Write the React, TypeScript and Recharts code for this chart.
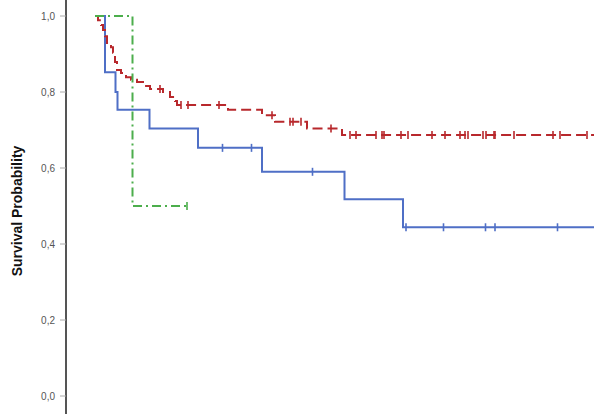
import { LineChart, Line, XAxis, YAxis } from "recharts";

// survival steps (time, probability); time in months
const blueTimes = [0, 2.0, 4.1, 4.5, 10.9, 20.6, 33.4, 49.9, 61.6];
const blueSurv = [1.0, 0.852, 0.8, 0.753, 0.704, 0.653, 0.59, 0.518, 0.444];
const blueCensor = [25.5, 31.3, 43.5, 62.2, 69.7, 78.1, 80.0, 92.5];

const redTimes = [0, 0.6, 1.2, 1.6, 2.0, 2.4, 3.2, 3.6, 4.0, 4.4, 5.2, 6.2, 7.2, 8.4, 9.6, 11.0, 13.6, 15.0, 16.0, 16.4, 26.6, 33.4, 36.0, 42.4, 49.4];
const redSurv = [1.0, 0.989, 0.976, 0.963, 0.947, 0.929, 0.918, 0.903, 0.879, 0.858, 0.85, 0.839, 0.832, 0.826, 0.816, 0.808, 0.8, 0.787, 0.776, 0.766, 0.753, 0.739, 0.722, 0.704, 0.687];
const redCensor = [13.0, 17.2, 18.6, 24.8, 35.4, 39.0, 39.6, 41.2, 47.2, 51.0, 52.2, 56.2, 57.4, 57.8, 61.2, 62.6, 67.4, 70.0, 73.0, 74.0, 74.6, 77.6, 78.2, 79.8, 80.0, 83.8, 91.6, 93.0, 98.4];

const greenTimes = [0, 7.5];
const greenSurv = [1.0, 0.5];
const greenCensor = [18.4];

const yTicks = [0, 0.2, 0.4, 0.6, 0.8, 1.0];
const lastTime = 99.8;

type Pt = { t: number; s: number; c: boolean };

function build(times: number[], surv: number[], censor: number[], end: number): Pt[] {
  const pts: Pt[] = times.map((t, i) => ({ t, s: surv[i], c: false }));
  censor.forEach((t) => {
    let idx = 0;
    times.forEach((tt, i) => {
      if (tt <= t) idx = i;
    });
    pts.push({ t, s: surv[idx], c: true });
  });
  pts.sort((a, b) => a.t - b.t);
  const last = pts[pts.length - 1];
  if (end > last.t) pts.push({ t: end, s: last.s, c: false });
  return pts;
}

const blueData = build(blueTimes, blueSurv, blueCensor, lastTime);
const redData = build(redTimes, redSurv, redCensor, lastTime);
const greenData = build(greenTimes, greenSurv, greenCensor, 0);

const censorDot = (color: string) => (props: any) => {
  const { cx, cy, payload, index } = props;
  if (!payload.c) return <g key={"d" + index} />;
  return <line key={"d" + index} x1={cx} x2={cx} y1={cy - 4} y2={cy + 4} stroke={color} strokeWidth={1.6} />;
};

const fmt = (v: number) => v.toFixed(1).replace(".", ",");

export default function App() {
  return (
    <div style={{ position: "fixed", top: 0, left: 0, width: 594, height: 414, overflow: "hidden", background: "#fff" }}>
      <div style={{ marginTop: -3 }}>
        <LineChart width={594} height={418} margin={{ top: 0, right: 0, bottom: 0, left: 0 }}>
          <XAxis dataKey="t" type="number" domain={[-5.8, 99.8]} allowDataOverflow hide />
          <YAxis
            type="number"
            domain={[-0.05, 1.05]}
            ticks={yTicks}
            tickFormatter={fmt}
            width={66}
            tickSize={6}
            tickMargin={5}
            axisLine={{ stroke: "#555", strokeWidth: 2 }}
            tickLine={{ stroke: "#aaa" }}
            tick={{ fill: "#555", fontSize: 10, fontFamily: "Liberation Sans, Arial, sans-serif" }}
            label={{
              content: () => (
                <text
                  x={17}
                  y={214}
                  transform="rotate(-90 17 214)"
                  textAnchor="middle"
                  dominantBaseline="central"
                  fontSize={14}
                  fontWeight="bold"
                  fontFamily="Liberation Sans, Arial, sans-serif"
                  fill="#111"
                >
                  Survival Probability
                </text>
              ),
            }}
          />
          <Line
            data={blueData}
            dataKey="s"
            type="stepAfter"
            stroke="#4f6fc6"
            strokeWidth={2}
            dot={censorDot("#4f6fc6")}
            isAnimationActive={false}
          />
          <Line
            data={redData}
            dataKey="s"
            type="stepAfter"
            stroke="#b8282c"
            strokeWidth={2}
            strokeDasharray="10 5"
            dot={censorDot("#b8282c")}
            isAnimationActive={false}
          />
          <Line
            data={greenData}
            dataKey="s"
            type="stepAfter"
            stroke="#4cae4c"
            strokeWidth={2}
            strokeDasharray="9 4 2 4"
            dot={censorDot("#4cae4c")}
            isAnimationActive={false}
          />
        </LineChart>
      </div>
    </div>
  );
}
